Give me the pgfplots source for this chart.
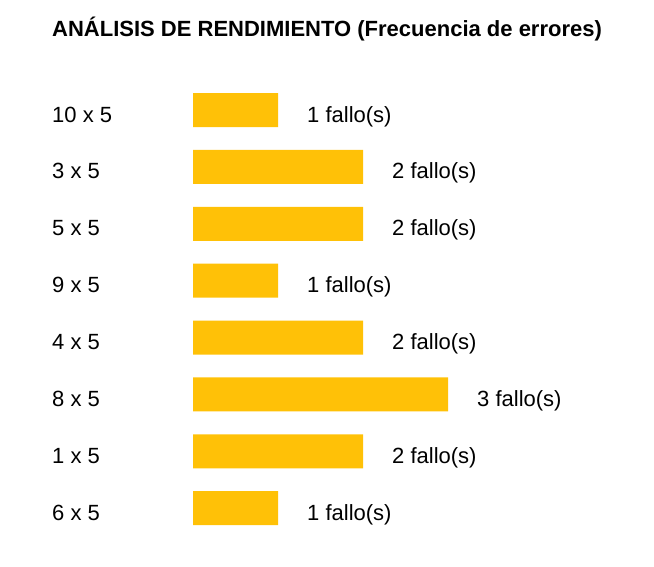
\documentclass[border=0pt]{standalone}
\usepackage{fontspec}
\setmainfont{Liberation Sans}
\usepackage{pgfplots}
\pgfplotsset{compat=1.18}
\definecolor{barc}{HTML}{FFC107}
\newcommand{\bodyfont}{\fontsize{22bp}{26bp}\selectfont}
\begin{document}
\begin{tikzpicture}
\useasboundingbox (0,0) rectangle (654bp,567bp);
\node[anchor=base west, inner sep=0, font=\bodyfont\bfseries] at (52bp,530bp) {ANÁLISIS DE RENDIMIENTO (Frecuencia de errores)};
\begin{axis}[
  at={(193bp,30.4bp)}, anchor=south west,
  scale only axis, width=340bp, height=455bp,
  xbar, bar width=34bp,
  xmin=0, xmax=4, ymin=-0.5, ymax=7.5,
  y dir=reverse,
  ytick={0,...,7},
  yticklabels={10 x 5,3 x 5,5 x 5,9 x 5,4 x 5,8 x 5,1 x 5,6 x 5},
  xtick=\empty,
  axis line style={draw=none},
  major tick length=0pt,
  /pgf/number format/assume math mode=true,
  yticklabel style={anchor=base west, inner sep=0pt, xshift=-141bp, yshift=-12bp, font=\bodyfont},
  nodes near coords={\pgfmathprintnumber[assume math mode=true]{\pgfplotspointmeta} fallo(s)},
  point meta=x,
  nodes near coords style={anchor=base west, inner sep=0pt, xshift=29bp, yshift=-12bp, font=\bodyfont},
  clip=false,
]
\addplot[fill=barc, draw=none] coordinates {(1,0) (2,1) (2,2) (1,3) (2,4) (3,5) (2,6) (1,7)};
\end{axis}
\end{tikzpicture}
\end{document}
